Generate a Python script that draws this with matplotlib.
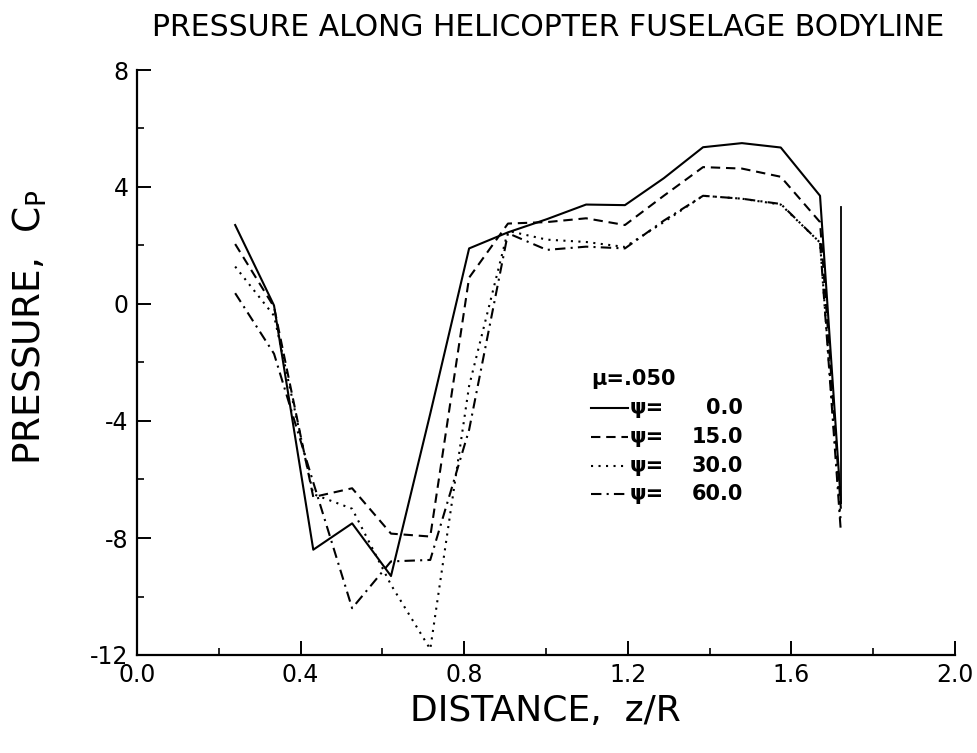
import matplotlib
matplotlib.use("Agg")
import matplotlib.pyplot as plt
from matplotlib.lines import Line2D
from matplotlib.ticker import MultipleLocator

# ---- data ----
z = [0.240, 0.335, 0.431, 0.526, 0.621, 0.717, 0.812, 0.907, 1.002, 1.098,
     1.193, 1.288, 1.384, 1.479, 1.574, 1.670, 1.721]
cp_psi0 = [2.70, -0.05, -8.40, -7.50, -9.30, -3.75, 1.90, 2.45, 2.90, 3.40,
           3.38, 4.30, 5.36, 5.50, 5.35, 3.70, -6.80]
cp_psi15 = [2.05, -0.10, -6.60, -6.30, -7.85, -7.95, 0.90, 2.75, 2.80, 2.93,
            2.70, 3.70, 4.68, 4.63, 4.35, 2.80, -7.00]
cp_psi30 = [1.28, -0.40, -6.50, -7.00, -9.60, -11.80, -2.80, 2.50, 2.20, 2.12,
            1.95, 2.80, 3.70, 3.60, 3.40, 2.10, -7.50]
cp_psi60 = [0.37, -1.70, -6.10, -10.40, -8.80, -8.75, -4.30, 2.42, 1.85, 1.96,
            1.90, 2.85, 3.70, 3.60, 3.42, 2.10, -7.80]
# closing vertical stroke of the psi=0 curve
z_end = [1.721, 1.721]
cp_end = [-6.80, 3.30]

series_labels = ["0.0", "15.0", "30.0", "60.0"]
mu_label = "\u03bc=.050"

title = "PRESSURE ALONG HELICOPTER FUSELAGE BODYLINE"
xlabel = "DISTANCE,  z/R"
ylabel = "PRESSURE,  C$_\\mathregular{P}$"
xticks = [0.0, 0.4, 0.8, 1.2, 1.6, 2.0]
xticklabels = ["0.0", "0.4", "0.8", "1.2", "1.6", "2.0"]
yticks = [-12, -8, -4, 0, 4, 8]
yticklabels = ["-12", "-8", "-4", "0", "4", "8"]

# ---- figure ----
fig = plt.figure(figsize=(9.78, 7.53), dpi=100)
ax = fig.add_axes([137 / 978, 98 / 753, 818 / 978, 585 / 753])

styles = [
    dict(linestyle="-"),
    dict(linestyle=(0, (4.5, 2.8))),
    dict(linestyle=(0, (1.0, 2.6))),
    dict(linestyle=(0, (5.0, 2.5, 1.0, 2.5))),
]
series = [cp_psi0, cp_psi15, cp_psi30, cp_psi60]
lw = 1.5
for vals, st in zip(series, styles):
    ax.plot(z, vals, color="black", linewidth=lw, **st)
ax.plot(z_end, cp_end, color="black", linewidth=1.3)

ax.set_xlim(0.0, 2.0)
ax.set_ylim(-12, 8)
for s in ("top", "right"):
    ax.spines[s].set_visible(False)
for s in ("left", "bottom"):
    ax.spines[s].set_linewidth(1.6)

ax.set_xticks(xticks)
ax.set_xticklabels(xticklabels, fontsize=17)
ax.set_yticks(yticks)
ax.set_yticklabels(yticklabels, fontsize=17)
ax.xaxis.set_minor_locator(MultipleLocator(0.2))
ax.yaxis.set_minor_locator(MultipleLocator(2))
ax.tick_params(which="major", direction="in", length=10, width=1.4, pad=6)
ax.tick_params(which="minor", direction="in", length=5, width=1.2)

ax.set_xlabel(xlabel, fontsize=26)
ax.xaxis.set_label_coords(0.499, -0.066)
ax.set_ylabel(ylabel, fontsize=27)
ax.yaxis.set_label_coords(-0.108, 0.56)

fig.text(548 / 978, 1 - 28 / 753, title, fontsize=21.5, ha="center", va="center")

# ---- legend block (drawn manually to match the reference) ----
def fx(px):
    return (px - 137) / 818

def fy(py):
    return (655 - py) / 585

leg_font = dict(fontsize=15, fontweight="bold", color="black",
                transform=ax.transAxes, va="center")
ax.text(fx(591), fy(379), mu_label, ha="left", **leg_font)
rows_py = [408, 437, 466, 494]
for lab, st, py in zip(series_labels, styles, rows_py):
    ax.add_line(Line2D([fx(591), fx(628)], [fy(py), fy(py)], color="black",
                       linewidth=lw, transform=ax.transAxes, **st))
    ax.text(fx(630), fy(py), "\u03c8=", ha="left", **leg_font)
    ax.text(fx(743), fy(py), lab, ha="right", **leg_font)

fig.savefig("out.png", dpi=100)
